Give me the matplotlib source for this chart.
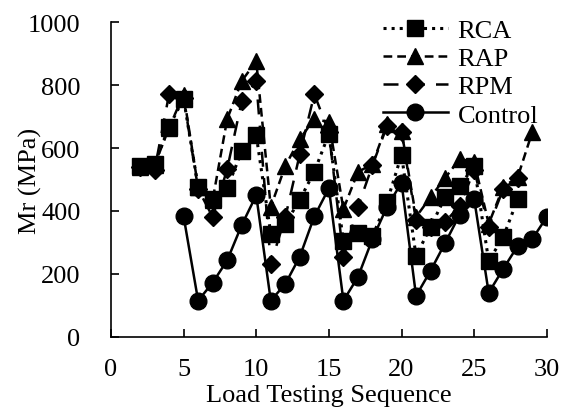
"""
Resilient modulus vs load testing sequence
"""

import numpy as np
import matplotlib
matplotlib.use('Agg')
import matplotlib.pyplot as plt

plt.rcParams['font.family'] = ['Liberation Serif', 'DejaVu Serif']

# Data
seq_mix = list(range(2, 29))
rca = [543, 549, 668, 757, 476, 438, 472, 590, 641, 328, 359, 436, 525, 645,
       303, 330, 320, 429, 578, 257, 349, 444, 479, 543, 241, 317, 438]
rpm = [540, 530, 771, 760, 470, 381, 533, 749, 813, 232, 380, 581, 771, 650,
       254, 413, 545, 670, 650, 370, 350, 365, 416, 530, 350, 470, 505]

seq_rap = list(range(2, 30))
rap = [540, 545, 665, 770, 475, 435, 692, 813, 876, 413, 543, 629, 692, 683,
       406, 524, 549, 676, 654, 381, 444, 505, 565, 556, 359, 476, 508, 651]

seq_ctrl = list(range(5, 31))
control = [383, 115, 172, 243, 355, 450, 115, 168, 255, 383, 472, 115, 190,
           311, 413, 490, 130, 210, 298, 388, 438, 140, 216, 289, 311, 381]


fig = plt.figure(figsize=(5.69, 4.14), dpi=100)
ax = fig.add_axes([0.195, 0.184, 0.766, 0.76])

ax.plot(seq_mix, rca, color='black', linestyle=':', linewidth=2.2,
        marker='s', markersize=11, label='RCA')
ax.plot(seq_rap, rap, color='black', linestyle=(0, (3.5, 2)), linewidth=1.8,
        marker='^', markersize=11, label='RAP')
ax.plot(seq_mix, rpm, color='black', linestyle=(0, (6, 4.5)), linewidth=1.8,
        marker='D', markersize=9, label='RPM')
ax.plot(seq_ctrl, control, color='black', linestyle='-', linewidth=1.8,
        marker='o', markersize=12, label='Control')

ax.set_xlim(0, 30)
ax.set_ylim(0, 1000)
ax.set_xticks(np.arange(0, 31, 5))
ax.set_yticks(np.arange(0, 1001, 200))

for side in ['top', 'right']:
    ax.spines[side].set_visible(False)
for side in ['left', 'bottom']:
    ax.spines[side].set_linewidth(1.2)

ax.tick_params(direction='in', length=6, width=1.2, labelsize=19)
ax.tick_params(axis='x', pad=15)
ax.tick_params(axis='y', pad=22)
ax.set_xlabel('Load Testing Sequence', fontsize=19, labelpad=3)
ax.set_ylabel('Mr (MPa)', fontsize=19)
ax.yaxis.set_label_coords(-0.158, 0.5)

ax.legend(loc='upper right', frameon=False, fontsize=19, handlelength=2.45,
          handletextpad=0.38, labelspacing=0.18, borderaxespad=0.0,
          bbox_to_anchor=(1.005, 1.045))

plt.savefig('out.png', dpi=100)
plt.close()
